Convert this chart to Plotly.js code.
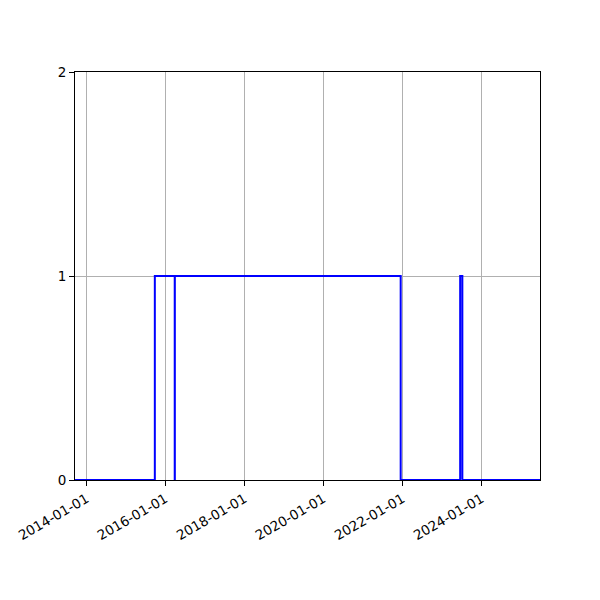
<!DOCTYPE html>
<html>
<head>
<meta charset="utf-8">
<script src="https://cdn.plot.ly/plotly-3.0.1.min.js"></script>
<style>
  body { margin: 0; background: #fff; }
  #plot { width: 600px; height: 600px; }
</style>
</head>
<body>
<div id="plot"></div>
<script>
// state changes, drawn as a step line
var dates = ['2013-09-17', '2015-09-25', '2016-03-27', '2016-03-28', '2021-12-15',
             '2023-06-18', '2023-07-08', '2025-06-25'];
var values = [0, 1, 0, 1, 0, 1, 0, 0];

var tickDates = ['2014-01-01', '2016-01-01', '2018-01-01', '2020-01-01', '2022-01-01', '2024-01-01'];
var yTicks = [0, 1, 2];

var data = [
    {
        type: 'scatter',
        mode: 'lines',
        x: dates,
        y: values,
        line: { shape: 'hv', color: 'blue', width: 2 },
        hoverinfo: 'x+y'
    }
];

var axisStyle = {
    showline: true,
    linecolor: 'black',
    linewidth: 1,
    mirror: true,
    ticks: 'outside',
    ticklen: 5,
    tickwidth: 1,
    tickcolor: 'black',
    showgrid: true,
    gridcolor: '#b0b0b0',
    gridwidth: 0.8,
    zeroline: false,
    tickfont: { family: 'DejaVu Sans', size: 13.5, color: 'black' }
};

var layout = {
    width: 600,
    height: 600,
    margin: { l: 75, r: 60, t: 72, b: 120 },
    paper_bgcolor: 'white',
    plot_bgcolor: 'white',
    showlegend: false,
    xaxis: Object.assign({}, axisStyle, {
        type: 'date',
        range: [dates[0], dates[dates.length - 1]],
        tickvals: tickDates,
        ticktext: tickDates,
        tickangle: -30
    }),
    yaxis: Object.assign({}, axisStyle, {
        range: [0, 2],
        tickvals: yTicks,
        ticktext: yTicks.map(String)
    })
};

Plotly.newPlot('plot', data, layout, { displayModeBar: false });
</script>
</body>
</html>
